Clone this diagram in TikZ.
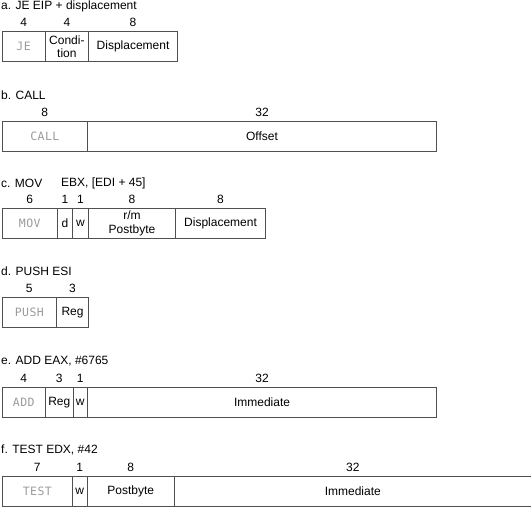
\documentclass[tikz,border=0pt]{standalone}
\usepackage{fontspec}
\setmainfont{Liberation Sans}
\newfontfamily\opfont[LetterSpace=4]{DejaVu Sans Mono}
\definecolor{linec}{HTML}{505050}
\definecolor{opc}{HTML}{9A9A9A}
\tikzset{
  cell/.style={draw=linec, line width=1.1pt, minimum height=30pt, inner sep=0pt, anchor=north west, font=\fontsize{12}{13.5}\selectfont, align=center},
  opcell/.style={cell, font=\fontsize{11.5}{13}\opfont, text=opc},
  bits/.style={font=\fontsize{12}{13}\selectfont, inner sep=0pt, anchor=center},
  ttl/.style={font=\fontsize{12}{13}\selectfont, inner sep=0pt, anchor=west}
}
\begin{document}
\begin{tikzpicture}[x=1pt,y=-1pt]
\useasboundingbox (0,0) rectangle (531,508);
% ---- a
\node[ttl] (at) at (1,6.5) {a. JE EIP + displacement};
\node[opcell, minimum width=43.2pt] (a1) at (1.5,31) {JE};
\node[cell, minimum width=43.3pt] (a2) at (44.7,31) {Condi-\\tion};
\node[cell, minimum width=89pt] (a3) at (88,31) {Displacement};
\node[bits] (an1) at ([yshift=9pt]a1.north) {4};
\node[bits] (an2) at ([yshift=9pt]a2.north) {4};
\node[bits] (an3) at ([yshift=9pt]a3.north) {8};
% ---- b
\node[ttl] (bt) at (1,95) {b. CALL};
\node[opcell, minimum width=85.5pt] (b1) at (1.5,121) {CALL};
\node[cell, minimum width=349pt] (b2) at (87,121) {Offset};
\node[bits] (bn1) at ([yshift=9pt]b1.north) {8};
\node[bits] (bn2) at ([yshift=9pt]b2.north) {32};
% ---- c
\node[ttl] (ct1) at (1,183) {c. MOV};
\node[ttl] (ct2) at (61,183) {EBX, [EDI + 45]};
\node[opcell, minimum width=55.5pt] (c1) at (1.5,208) {MOV};
\node[cell, minimum width=15pt] (c2) at (57,208) {d};
\node[cell, minimum width=16pt] (c3) at (72,208) {w};
\node[cell, minimum width=87pt] (c4) at (88,208) {r/m\\Postbyte};
\node[cell, minimum width=90pt] (c5) at (175,208) {Displacement};
\node[bits] (cn1) at ([yshift=9pt]c1.north) {6};
\node[bits] (cn2) at ([yshift=9pt]c2.north) {1};
\node[bits] (cn3) at ([yshift=9pt]c3.north) {1};
\node[bits] (cn4) at ([yshift=9pt]c4.north) {8};
\node[bits] (cn5) at ([yshift=9pt]c5.north) {8};
% ---- d
\node[ttl] (dt) at (1,271) {d. PUSH ESI};
\node[opcell, minimum width=54.5pt] (d1) at (1.5,297) {PUSH};
\node[cell, minimum width=32pt] (d2) at (56,297) {Reg};
\node[bits] (dn1) at ([yshift=9pt]d1.north) {5};
\node[bits] (dn2) at ([yshift=9pt]d2.north) {3};
% ---- e
\node[ttl] (et) at (1,361) {e. ADD EAX, \#6765};
\node[opcell, minimum width=43.5pt] (e1) at (1.5,387) {ADD};
\node[cell, minimum width=27.5pt] (e2) at (45,387) {Reg};
\node[cell, minimum width=14.5pt] (e3) at (72.5,387) {w};
\node[cell, minimum width=349pt] (e4) at (87,387) {Immediate};
\node[bits] (en1) at ([yshift=9pt]e1.north) {4};
\node[bits] (en2) at ([yshift=9pt]e2.north) {3};
\node[bits] (en3) at ([yshift=9pt]e3.north) {1};
\node[bits] (en4) at ([yshift=9pt]e4.north) {32};
% ---- f
\node[ttl] (ft) at (1,450) {f. TEST EDX, \#42};
\node[opcell, minimum width=70.5pt] (f1) at (1.5,476) {TEST};
\node[cell, minimum width=14.5pt] (f2) at (72,476) {w};
\node[cell, minimum width=87.5pt] (f3) at (86.5,476) {Postbyte};
\node[cell, minimum width=356.5pt] (f4) at (174,476) {Immediate};
\node[bits] (fn1) at ([yshift=9pt]f1.north) {7};
\node[bits] (fn2) at ([yshift=9pt]f2.north) {1};
\node[bits] (fn3) at ([yshift=9pt]f3.north) {8};
\node[bits] (fn4) at ([yshift=9pt]f4.north) {32};
\end{tikzpicture}
\end{document}
